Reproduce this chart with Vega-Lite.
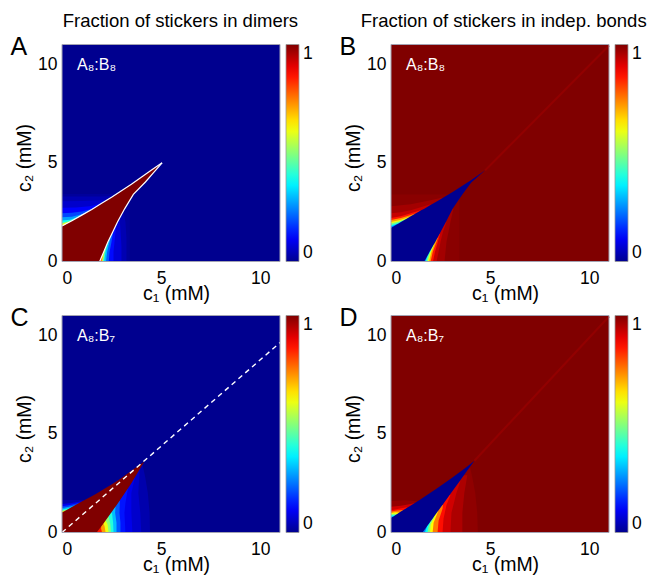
{
 "$schema": "https://vega.github.io/schema/vega-lite/v6.json",
 "padding": {"left": 10, "top": 11.5, "right": 3, "bottom": 0},
 "background": "white",
 "datasets": {
  "bgA": [{"x":0,"x2":11,"y":0,"y2":11,"v":0}],
  "bgB": [{"x":0,"x2":11,"y":0,"y2":11,"v":1}],
  "bgC": [{"x":0,"x2":11,"y":0,"y2":11,"v":0}],
  "bgD": [{"x":0,"x2":11,"y":0,"y2":11,"v":1}],
  "boxA": [{"x":0,"x2":3.42,"y":0,"y2":3.42,"v":0.012}],
  "boxB": [{"x":0,"x2":3.45,"y":0,"y2":3.4,"v":0.99}],
  "r2A": [
   {"v":0.035,"y":0,"x":1.6,"x2":3.25},{"v":0.035,"y":1.2,"x":2.12,"x2":3.25},{"v":0.035,"y":2.0,"x":2.5,"x2":3.2},{"v":0.035,"y":2.6,"x":2.83,"x2":3.1},
   {"v":0.07,"y":0,"x":1.6,"x2":3.0},{"v":0.07,"y":0.8,"x":1.94,"x2":3.0},{"v":0.07,"y":1.6,"x":2.31,"x2":2.95},{"v":0.07,"y":2.2,"x":2.61,"x2":2.91},
   {"v":0.12,"y":0,"x":1.6,"x2":2.6},{"v":0.12,"y":0.5,"x":1.81,"x2":2.6},{"v":0.12,"y":1.0,"x":2.02,"x2":2.65},{"v":0.12,"y":1.5,"x":2.26,"x2":2.7},{"v":0.12,"y":1.9,"x":2.45,"x2":2.75},
   {"v":0.2,"y":0,"x":1.6,"x2":2.36},{"v":0.2,"y":0.5,"x":1.81,"x2":2.4},{"v":0.2,"y":1.0,"x":2.02,"x2":2.5},{"v":0.2,"y":1.5,"x":2.26,"x2":2.58},
   {"v":0.3,"y":0,"x":1.6,"x2":2.22},{"v":0.3,"y":0.5,"x":1.81,"x2":2.28},{"v":0.3,"y":1.0,"x":2.02,"x2":2.4},{"v":0.3,"y":1.3,"x":2.16,"x2":2.47},
   {"v":0.42,"y":0,"x":1.6,"x2":2.13},{"v":0.42,"y":0.5,"x":1.81,"x2":2.2},{"v":0.42,"y":1.0,"x":2.02,"x2":2.33},
   {"v":0.55,"y":0,"x":1.6,"x2":2.07},{"v":0.55,"y":0.4,"x":1.77,"x2":2.13},{"v":0.55,"y":0.8,"x":1.94,"x2":2.24},
   {"v":0.7,"y":0,"x":1.6,"x2":2.02},{"v":0.7,"y":0.3,"x":1.73,"x2":2.07},{"v":0.7,"y":0.55,"x":1.83,"x2":2.13},
   {"v":0.85,"y":0,"x":1.6,"x2":1.97},{"v":0.85,"y":0.3,"x":1.73,"x2":2.03}
  ],
  "r1A": [
   {"v":0.035,"x":0,"y":1.5,"y2":3.3},{"v":0.035,"x":1.0,"y":2.05,"y2":3.3},{"v":0.035,"x":2.0,"y":2.65,"y2":3.3},{"v":0.035,"x":2.6,"y":3.02,"y2":3.33},
   {"v":0.06,"x":0,"y":1.5,"y2":3.05},{"v":0.06,"x":1.0,"y":2.05,"y2":3.07},{"v":0.06,"x":2.0,"y":2.65,"y2":3.1},{"v":0.06,"x":2.3,"y":2.83,"y2":3.13},
   {"v":0.11,"x":0,"y":1.5,"y2":2.72},{"v":0.11,"x":0.7,"y":1.88,"y2":2.74},{"v":0.11,"x":1.4,"y":2.28,"y2":2.8},{"v":0.11,"x":2.0,"y":2.65,"y2":2.95},
   {"v":0.18,"x":0,"y":1.5,"y2":2.45},{"v":0.18,"x":0.5,"y":1.77,"y2":2.47},{"v":0.18,"x":1.0,"y":2.05,"y2":2.53},{"v":0.18,"x":1.5,"y":2.34,"y2":2.66},{"v":0.18,"x":1.7,"y":2.46,"y2":2.76},
   {"v":0.27,"x":0,"y":1.5,"y2":2.24},{"v":0.27,"x":0.5,"y":1.77,"y2":2.27},{"v":0.27,"x":1.0,"y":2.05,"y2":2.4},{"v":0.27,"x":1.35,"y":2.25,"y2":2.55},
   {"v":0.38,"x":0,"y":1.5,"y2":2.08},{"v":0.38,"x":0.4,"y":1.72,"y2":2.12},{"v":0.38,"x":0.8,"y":1.94,"y2":2.26},{"v":0.38,"x":1.0,"y":2.05,"y2":2.35},
   {"v":0.5,"x":0,"y":1.5,"y2":1.97},{"v":0.5,"x":0.3,"y":1.66,"y2":2.03},{"v":0.5,"x":0.6,"y":1.83,"y2":2.13},
   {"v":0.62,"x":0,"y":1.5,"y2":1.9},{"v":0.62,"x":0.2,"y":1.61,"y2":1.97},{"v":0.62,"x":0.35,"y":1.69,"y2":2.0}
  ],
  "wedgeA": [
   {"v":1,"x":0,"y":0,"y2":1.8},{"v":1,"x":0.5,"y":0,"y2":2.07},{"v":1,"x":1.0,"y":0,"y2":2.35},{"v":1,"x":1.5,"y":0,"y2":2.64},{"v":1,"x":1.9,"y":0,"y2":2.88},
   {"v":1,"x":2.11,"y":0.5,"y2":3.01},{"v":1,"x":2.32,"y":1.0,"y2":3.15},{"v":1,"x":2.56,"y":1.5,"y2":3.3},{"v":1,"x":2.8,"y":2.0,"y2":3.45},
   {"v":1,"x":3.16,"y":2.67,"y2":3.69},{"v":1,"x":3.6,"y":3.4,"y2":3.99},{"v":1,"x":4.21,"y":4.03,"y2":4.42},{"v":1,"x":4.6,"y":4.48,"y2":4.7},{"v":1,"x":5.0,"y":4.97,"y2":4.97}
  ],
  "linesA": [
   {"s":"u","x":0,"y":1.8},{"s":"u","x":0.5,"y":2.07},{"s":"u","x":1,"y":2.35},{"s":"u","x":1.5,"y":2.64},{"s":"u","x":2,"y":2.95},{"s":"u","x":2.5,"y":3.26},{"s":"u","x":3,"y":3.59},{"s":"u","x":3.5,"y":3.92},{"s":"u","x":4,"y":4.27},{"s":"u","x":4.5,"y":4.63},{"s":"u","x":5.05,"y":5.0},
   {"s":"l","x":1.9,"y":0},{"s":"l","x":2.11,"y":0.5},{"s":"l","x":2.32,"y":1.0},{"s":"l","x":2.56,"y":1.5},{"s":"l","x":2.8,"y":2.0},{"s":"l","x":3.16,"y":2.67},{"s":"l","x":3.6,"y":3.4},{"s":"l","x":4.21,"y":4.03},{"s":"l","x":4.62,"y":4.5},{"s":"l","x":5.05,"y":5.0}
  ],
  "diagB": [{"x":4.75,"y":4.62},{"x":11,"y":10.95}],
  "r2B": [
   {"v":0.965,"y":0,"x":1.38,"x2":2.7},{"v":0.965,"y":1.0,"x":1.94,"x2":2.8},{"v":0.965,"y":2.0,"x":2.47,"x2":3.0},{"v":0.965,"y":2.67,"x":2.81,"x2":3.15},
   {"v":0.93,"y":0,"x":1.38,"x2":2.3},{"v":0.93,"y":0.5,"x":1.65,"x2":2.4},{"v":0.93,"y":1.0,"x":1.94,"x2":2.5},{"v":0.93,"y":1.5,"x":2.2,"x2":2.62},{"v":0.93,"y":2.0,"x":2.47,"x2":2.8},
   {"v":0.85,"y":0,"x":1.38,"x2":2.12},{"v":0.85,"y":0.5,"x":1.65,"x2":2.22},{"v":0.85,"y":1.0,"x":1.94,"x2":2.37},{"v":0.85,"y":1.4,"x":2.15,"x2":2.47},
   {"v":0.72,"y":0,"x":1.38,"x2":2.0},{"v":0.72,"y":0.5,"x":1.65,"x2":2.11},{"v":0.72,"y":1.0,"x":1.94,"x2":2.3},{"v":0.72,"y":1.2,"x":2.04,"x2":2.36},
   {"v":0.6,"y":0,"x":1.38,"x2":1.92},{"v":0.6,"y":0.5,"x":1.65,"x2":2.04},{"v":0.6,"y":0.9,"x":1.88,"x2":2.2},
   {"v":0.48,"y":0,"x":1.38,"x2":1.85},{"v":0.48,"y":0.4,"x":1.6,"x2":1.96},{"v":0.48,"y":0.8,"x":1.82,"x2":2.13},
   {"v":0.36,"y":0,"x":1.38,"x2":1.78},{"v":0.36,"y":0.3,"x":1.55,"x2":1.87},{"v":0.36,"y":0.6,"x":1.71,"x2":2.02},
   {"v":0.24,"y":0,"x":1.38,"x2":1.73},{"v":0.24,"y":0.25,"x":1.52,"x2":1.83},{"v":0.24,"y":0.45,"x":1.62,"x2":1.93}
  ],
  "r1B": [
   {"v":0.965,"x":0,"y":1.4,"y2":2.8},{"v":0.965,"x":1.0,"y":1.99,"y2":2.9},{"v":0.965,"x":2.0,"y":2.57,"y2":3.1},{"v":0.965,"x":2.6,"y":2.92,"y2":3.25},
   {"v":0.93,"x":0,"y":1.4,"y2":2.45},{"v":0.93,"x":0.5,"y":1.7,"y2":2.5},{"v":0.93,"x":1.0,"y":1.99,"y2":2.6},{"v":0.93,"x":1.5,"y":2.28,"y2":2.75},{"v":0.93,"x":2.0,"y":2.57,"y2":2.9},
   {"v":0.85,"x":0,"y":1.4,"y2":2.2},{"v":0.85,"x":0.5,"y":1.7,"y2":2.3},{"v":0.85,"x":1.0,"y":1.99,"y2":2.45},{"v":0.85,"x":1.5,"y":2.28,"y2":2.6},
   {"v":0.72,"x":0,"y":1.4,"y2":2.1},{"v":0.72,"x":0.5,"y":1.7,"y2":2.2},{"v":0.72,"x":1.0,"y":1.99,"y2":2.36},{"v":0.72,"x":1.2,"y":2.1,"y2":2.42},
   {"v":0.6,"x":0,"y":1.4,"y2":2.0},{"v":0.6,"x":0.5,"y":1.7,"y2":2.12},{"v":0.6,"x":0.9,"y":1.93,"y2":2.25},
   {"v":0.48,"x":0,"y":1.4,"y2":1.92},{"v":0.48,"x":0.4,"y":1.64,"y2":2.03},{"v":0.48,"x":0.75,"y":1.85,"y2":2.16},
   {"v":0.36,"x":0,"y":1.4,"y2":1.84},{"v":0.36,"x":0.3,"y":1.58,"y2":1.93},{"v":0.36,"x":0.55,"y":1.73,"y2":2.04},
   {"v":0.24,"x":0,"y":1.4,"y2":1.77},{"v":0.24,"x":0.2,"y":1.52,"y2":1.85},{"v":0.24,"x":0.35,"y":1.6,"y2":1.91}
  ],
  "wedgeB": [
   {"v":0,"x":0,"y":0,"y2":1.7},{"v":0,"x":0.5,"y":0,"y2":2.0},{"v":0,"x":1.0,"y":0,"y2":2.29},{"v":0,"x":1.5,"y":0,"y2":2.58},{"v":0,"x":1.68,"y":0,"y2":2.68},
   {"v":0,"x":1.95,"y":0.5,"y2":2.84},{"v":0,"x":2.24,"y":1.0,"y2":3.0},{"v":0,"x":2.5,"y":1.5,"y2":3.16},{"v":0,"x":2.77,"y":2.0,"y2":3.32},
   {"v":0,"x":3.11,"y":2.67,"y2":3.52},{"v":0,"x":3.6,"y":3.4,"y2":3.84},{"v":0,"x":4.05,"y":4.0,"y2":4.13},{"v":0,"x":4.75,"y":4.62,"y2":4.62}
  ],
  "r1C": [
   {"v":0.03,"x":0,"y":0.77,"y2":1.65},{"v":0.03,"x":0.6,"y":1.09,"y2":1.65},{"v":0.03,"x":1.15,"y":1.4,"y2":1.65},
   {"v":0.09,"x":0,"y":0.77,"y2":1.45},{"v":0.09,"x":0.5,"y":1.04,"y2":1.5},{"v":0.09,"x":1.0,"y":1.32,"y2":1.58},
   {"v":0.17,"x":0,"y":0.77,"y2":1.33},{"v":0.17,"x":0.4,"y":0.99,"y2":1.39},{"v":0.17,"x":0.85,"y":1.24,"y2":1.5},
   {"v":0.27,"x":0,"y":0.77,"y2":1.24},{"v":0.27,"x":0.35,"y":0.97,"y2":1.3},{"v":0.27,"x":0.65,"y":1.12,"y2":1.38},
   {"v":0.38,"x":0,"y":0.77,"y2":1.17},{"v":0.38,"x":0.3,"y":0.94,"y2":1.23},{"v":0.38,"x":0.45,"y":1.01,"y2":1.27},
   {"v":0.5,"x":0,"y":0.77,"y2":1.11},{"v":0.5,"x":0.25,"y":0.91,"y2":1.17},
   {"v":0.62,"x":0,"y":0.77,"y2":1.07},{"v":0.62,"x":0.15,"y":0.85,"y2":1.1}
  ],
  "r2C": [
   {"v":0.03,"y":0,"x":1.45,"x2":4.44},{"v":0.03,"y":1.0,"x":2.18,"x2":4.42},{"v":0.03,"y":2.0,"x":2.87,"x2":4.33},{"v":0.03,"y":2.8,"x":3.38,"x2":4.2},{"v":0.03,"y":3.45,"x":4.0,"x2":4.06},
   {"v":0.06,"y":0,"x":1.45,"x2":4.0},{"v":0.06,"y":1.0,"x":2.18,"x2":3.95},{"v":0.06,"y":2.0,"x":2.87,"x2":3.85},{"v":0.06,"y":3.2,"x":3.73,"x2":3.92},
   {"v":0.09,"y":0,"x":1.45,"x2":3.55},{"v":0.09,"y":1.0,"x":2.18,"x2":3.5},{"v":0.09,"y":2.0,"x":2.87,"x2":3.5},{"v":0.09,"y":2.8,"x":3.38,"x2":3.68},
   {"v":0.13,"y":0,"x":1.45,"x2":3.2},{"v":0.13,"y":1.0,"x":2.18,"x2":3.15},{"v":0.13,"y":1.5,"x":2.53,"x2":3.2},{"v":0.13,"y":2.2,"x":3.0,"x2":3.32},
   {"v":0.2,"y":0,"x":1.45,"x2":2.95},{"v":0.2,"y":0.5,"x":1.82,"x2":2.95},{"v":0.2,"y":1.0,"x":2.18,"x2":2.9},{"v":0.2,"y":1.6,"x":2.6,"x2":2.92},
   {"v":0.3,"y":0,"x":1.45,"x2":2.75},{"v":0.3,"y":0.5,"x":1.82,"x2":2.75},{"v":0.3,"y":1.0,"x":2.18,"x2":2.68},{"v":0.3,"y":1.3,"x":2.39,"x2":2.7},
   {"v":0.4,"y":0,"x":1.45,"x2":2.6},{"v":0.4,"y":0.5,"x":1.82,"x2":2.58},{"v":0.4,"y":1.0,"x":2.18,"x2":2.52},
   {"v":0.5,"y":0,"x":1.45,"x2":2.47},{"v":0.5,"y":0.4,"x":1.74,"x2":2.44},{"v":0.5,"y":0.8,"x":2.04,"x2":2.36},
   {"v":0.6,"y":0,"x":1.45,"x2":2.35},{"v":0.6,"y":0.4,"x":1.74,"x2":2.3},{"v":0.6,"y":0.6,"x":1.89,"x2":2.21},
   {"v":0.72,"y":0,"x":1.45,"x2":2.2},{"v":0.72,"y":0.3,"x":1.67,"x2":2.15},{"v":0.72,"y":0.45,"x":1.78,"x2":2.1},
   {"v":0.85,"y":0,"x":1.45,"x2":2.02},{"v":0.85,"y":0.2,"x":1.6,"x2":1.97},{"v":0.85,"y":0.3,"x":1.67,"x2":1.98}
  ],
  "wedgeC": [
   {"v":1,"x":0,"y":0,"y2":1.02},{"v":1,"x":0.5,"y":0,"y2":1.29},{"v":1,"x":1.0,"y":0,"y2":1.57},{"v":1,"x":1.5,"y":0,"y2":1.84},{"v":1,"x":1.75,"y":0,"y2":1.98},
   {"v":1,"x":2.12,"y":0.5,"y2":2.2},{"v":1,"x":2.48,"y":1.0,"y2":2.42},{"v":1,"x":2.83,"y":1.5,"y2":2.65},{"v":1,"x":3.17,"y":2.0,"y2":2.89},
   {"v":1,"x":3.5,"y":2.5,"y2":3.13},{"v":1,"x":3.8,"y":3.0,"y2":3.35},{"v":1,"x":4.15,"y":3.59,"y2":3.59}
  ],
  "dashC": [{"x":0,"y":0},{"x":11,"y":9.625}],
  "diagD": [{"x":4.21,"y":3.64},{"x":11,"y":10.95}],
  "r2D": [
   {"v":0.985,"y":0,"x":1.29,"x2":4.38},{"v":0.985,"y":1.0,"x":2.01,"x2":4.35},{"v":0.985,"y":2.0,"x":2.73,"x2":4.25},{"v":0.985,"y":2.8,"x":3.31,"x2":4.1},{"v":0.985,"y":3.3,"x":3.85,"x2":3.99},
   {"v":0.955,"y":0,"x":1.29,"x2":3.6},{"v":0.955,"y":1.0,"x":2.01,"x2":3.6},{"v":0.955,"y":2.0,"x":2.73,"x2":3.7},{"v":0.955,"y":2.9,"x":3.38,"x2":3.85},
   {"v":0.92,"y":0,"x":1.29,"x2":3.0},{"v":0.92,"y":1.0,"x":2.01,"x2":3.05},{"v":0.92,"y":2.0,"x":2.73,"x2":3.3},{"v":0.92,"y":2.6,"x":3.16,"x2":3.5},
   {"v":0.86,"y":0,"x":1.29,"x2":2.6},{"v":0.86,"y":0.7,"x":1.79,"x2":2.65},{"v":0.86,"y":1.4,"x":2.3,"x2":2.8},{"v":0.86,"y":1.9,"x":2.66,"x2":3.0},
   {"v":0.75,"y":0,"x":1.29,"x2":2.35},{"v":0.75,"y":0.6,"x":1.72,"x2":2.4},{"v":0.75,"y":1.2,"x":2.15,"x2":2.6},{"v":0.75,"y":1.4,"x":2.3,"x2":2.62},
   {"v":0.62,"y":0,"x":1.29,"x2":2.1},{"v":0.62,"y":0.5,"x":1.65,"x2":2.15},{"v":0.62,"y":1.0,"x":2.01,"x2":2.35},{"v":0.62,"y":1.1,"x":2.08,"x2":2.38},
   {"v":0.5,"y":0,"x":1.29,"x2":1.97},{"v":0.5,"y":0.4,"x":1.58,"x2":2.0},{"v":0.5,"y":0.8,"x":1.87,"x2":2.2},
   {"v":0.37,"y":0,"x":1.29,"x2":1.84},{"v":0.37,"y":0.3,"x":1.51,"x2":1.9},{"v":0.37,"y":0.55,"x":1.69,"x2":1.99},
   {"v":0.24,"y":0,"x":1.29,"x2":1.71},{"v":0.24,"y":0.2,"x":1.43,"x2":1.78},{"v":0.24,"y":0.3,"x":1.51,"x2":1.81}
  ],
  "r1D": [
   {"v":0.98,"x":0,"y":0.49,"y2":1.6},{"v":0.98,"x":0.7,"y":0.94,"y2":1.64},{"v":0.98,"x":1.3,"y":1.31,"y2":1.58},
   {"v":0.92,"x":0,"y":0.49,"y2":1.3},{"v":0.92,"x":0.5,"y":0.81,"y2":1.35},{"v":0.92,"x":1.0,"y":1.12,"y2":1.45},{"v":0.92,"x":1.2,"y":1.25,"y2":1.5},
   {"v":0.86,"x":0,"y":0.49,"y2":1.13},{"v":0.86,"x":0.4,"y":0.75,"y2":1.2},{"v":0.86,"x":0.8,"y":1.0,"y2":1.28},
   {"v":0.75,"x":0,"y":0.49,"y2":1.06},{"v":0.75,"x":0.3,"y":0.68,"y2":1.12},{"v":0.75,"x":0.6,"y":0.87,"y2":1.14},
   {"v":0.62,"x":0,"y":0.49,"y2":0.99},{"v":0.62,"x":0.2,"y":0.62,"y2":1.03},{"v":0.62,"x":0.4,"y":0.75,"y2":1.02},
   {"v":0.5,"x":0,"y":0.49,"y2":0.93},{"v":0.5,"x":0.15,"y":0.58,"y2":0.95},{"v":0.5,"x":0.3,"y":0.68,"y2":0.94},
   {"v":0.37,"x":0,"y":0.49,"y2":0.87},{"v":0.37,"x":0.2,"y":0.62,"y2":0.88},
   {"v":0.24,"x":0,"y":0.49,"y2":0.8},{"v":0.24,"x":0.1,"y":0.55,"y2":0.81}
  ],
  "wedgeD": [
   {"v":0,"x":0,"y":0,"y2":0.74},{"v":0,"x":0.5,"y":0,"y2":1.06},{"v":0,"x":1.0,"y":0,"y2":1.37},{"v":0,"x":1.5,"y":0,"y2":1.69},{"v":0,"x":1.59,"y":0,"y2":1.75},
   {"v":0,"x":1.95,"y":0.5,"y2":1.99},{"v":0,"x":2.31,"y":1.0,"y2":2.23},{"v":0,"x":2.67,"y":1.5,"y2":2.48},{"v":0,"x":3.03,"y":2.0,"y2":2.74},
   {"v":0,"x":3.39,"y":2.5,"y2":3.0},{"v":0,"x":3.75,"y":3.0,"y2":3.27},{"v":0,"x":4.21,"y":3.64,"y2":3.64}
  ]
 },
 "concat": [
  {
   "width": 218, "height": 217,
   "title": {"text": "Fraction of stickers in dimers", "dx": 9.4},
   "layer": [
    {
     "encoding": {
      "x": {"field": "x", "type": "quantitative", "stack": null, "scale": {"domain": [0, 11], "nice": false, "zero": false}, "axis": {"values": [0, 5, 10], "title": "c₁ (mM)"}},
      "y": {"field": "y", "type": "quantitative", "stack": null, "scale": {"domain": [0, 11], "nice": false, "zero": false}, "axis": {"values": [0, 5, 10], "title": "c₂ (mM)"}},
      "color": {"field": "v", "type": "quantitative",
       "scale": {"domain": [0, 0.111, 0.238, 0.365, 0.492, 0.619, 0.746, 0.873, 1], "range": ["#00008f", "#0000ff", "#0080ff", "#00ffff", "#80ff80", "#ffff00", "#ff8000", "#ff0000", "#800000"], "interpolate": "rgb"},
       "legend": {"type": "gradient", "title": null, "values": [0, 1], "format": "d", "gradientLength": 217, "gradientThickness": 13, "offset": 6, "labelOffset": 4, "padding": 0}}
     },
     "layer": [
      {"data": {"name": "bgA"}, "mark": "rect", "encoding": {"x2": {"field": "x2"}, "y2": {"field": "y2"}}},
      {"data": {"name": "boxA"}, "mark": "rect", "encoding": {"x2": {"field": "x2"}, "y2": {"field": "y2"}}},
      {"data": {"name": "r2A"}, "mark": {"type": "area", "orient": "horizontal"}, "encoding": {"x2": {"field": "x2"}}},
      {"data": {"name": "r1A"}, "mark": {"type": "area", "orient": "vertical"}, "encoding": {"y2": {"field": "y2"}}},
      {"data": {"name": "wedgeA"}, "mark": {"type": "area", "orient": "vertical"}, "encoding": {"y2": {"field": "y2"}}},
      {"data": {"name": "linesA"}, "mark": {"type": "line", "strokeWidth": 1.2}, "encoding": {"detail": {"field": "s"}, "color": {"value": "white"}}},
      {"data": {"name": "bgA"}, "mark": {"type": "rect", "filled": false, "strokeWidth": 1}, "encoding": {"x2": {"field": "x2"}, "y2": {"field": "y2"}, "color": {"value": "#a3a3b3"}}}
     ]
    },
    {"data": {"values": [{"t": "A₈:B₈"}]}, "mark": {"type": "text", "fontSize": 16, "align": "left", "baseline": "alphabetic", "color": "white"}, "encoding": {"x": {"datum": 0.76}, "y": {"datum": 9.7}, "text": {"field": "t"}}},
    {"data": {"values": [{"t": "A"}]}, "mark": {"type": "text", "fontSize": 25, "align": "left", "baseline": "alphabetic", "color": "black"}, "encoding": {"x": {"datum": -2.6}, "y": {"datum": 10.48}, "text": {"field": "t"}}}
   ]
  },
  {
   "width": 218, "height": 217,
   "title": {"text": "Fraction of stickers in indep. bonds", "dx": 3.7},
   "layer": [
    {
     "encoding": {
      "x": {"field": "x", "type": "quantitative", "stack": null, "scale": {"domain": [0, 11], "nice": false, "zero": false}, "axis": {"values": [0, 5, 10], "title": "c₁ (mM)"}},
      "y": {"field": "y", "type": "quantitative", "stack": null, "scale": {"domain": [0, 11], "nice": false, "zero": false}, "axis": {"values": [0, 5, 10], "title": "c₂ (mM)"}},
      "color": {"field": "v", "type": "quantitative",
       "scale": {"domain": [0, 0.111, 0.238, 0.365, 0.492, 0.619, 0.746, 0.873, 1], "range": ["#00008f", "#0000ff", "#0080ff", "#00ffff", "#80ff80", "#ffff00", "#ff8000", "#ff0000", "#800000"], "interpolate": "rgb"},
       "legend": {"type": "gradient", "title": null, "values": [0, 1], "format": "d", "gradientLength": 217, "gradientThickness": 13, "offset": 6, "labelOffset": 4, "padding": 0}}
     },
     "layer": [
      {"data": {"name": "bgB"}, "mark": "rect", "encoding": {"x2": {"field": "x2"}, "y2": {"field": "y2"}}},
      {"data": {"name": "boxB"}, "mark": "rect", "encoding": {"x2": {"field": "x2"}, "y2": {"field": "y2"}}},
      {"data": {"name": "diagB"}, "mark": {"type": "line", "strokeWidth": 2}, "encoding": {"color": {"value": "#920000"}}},
      {"data": {"name": "r2B"}, "mark": {"type": "area", "orient": "horizontal"}, "encoding": {"x2": {"field": "x2"}}},
      {"data": {"name": "r1B"}, "mark": {"type": "area", "orient": "vertical"}, "encoding": {"y2": {"field": "y2"}}},
      {"data": {"name": "wedgeB"}, "mark": {"type": "area", "orient": "vertical"}, "encoding": {"y2": {"field": "y2"}}},
      {"data": {"name": "bgB"}, "mark": {"type": "rect", "filled": false, "strokeWidth": 1}, "encoding": {"x2": {"field": "x2"}, "y2": {"field": "y2"}, "color": {"value": "#a3a3b3"}}}
     ]
    },
    {"data": {"values": [{"t": "A₈:B₈"}]}, "mark": {"type": "text", "fontSize": 16, "align": "left", "baseline": "alphabetic", "color": "white"}, "encoding": {"x": {"datum": 0.76}, "y": {"datum": 9.7}, "text": {"field": "t"}}},
    {"data": {"values": [{"t": "B"}]}, "mark": {"type": "text", "fontSize": 25, "align": "left", "baseline": "alphabetic", "color": "black"}, "encoding": {"x": {"datum": -2.6}, "y": {"datum": 10.48}, "text": {"field": "t"}}}
   ]
  },
  {
   "width": 218, "height": 217,
   "layer": [
    {
     "encoding": {
      "x": {"field": "x", "type": "quantitative", "stack": null, "scale": {"domain": [0, 11], "nice": false, "zero": false}, "axis": {"values": [0, 5, 10], "title": "c₁ (mM)"}},
      "y": {"field": "y", "type": "quantitative", "stack": null, "scale": {"domain": [0, 11], "nice": false, "zero": false}, "axis": {"values": [0, 5, 10], "title": "c₂ (mM)"}},
      "color": {"field": "v", "type": "quantitative",
       "scale": {"domain": [0, 0.111, 0.238, 0.365, 0.492, 0.619, 0.746, 0.873, 1], "range": ["#00008f", "#0000ff", "#0080ff", "#00ffff", "#80ff80", "#ffff00", "#ff8000", "#ff0000", "#800000"], "interpolate": "rgb"},
       "legend": {"type": "gradient", "title": null, "values": [0, 1], "format": "d", "gradientLength": 217, "gradientThickness": 13, "offset": 6, "labelOffset": 4, "padding": 0}}
     },
     "layer": [
      {"data": {"name": "bgC"}, "mark": "rect", "encoding": {"x2": {"field": "x2"}, "y2": {"field": "y2"}}},
      {"data": {"name": "r2C"}, "mark": {"type": "area", "orient": "horizontal"}, "encoding": {"x2": {"field": "x2"}}},
      {"data": {"name": "r1C"}, "mark": {"type": "area", "orient": "vertical"}, "encoding": {"y2": {"field": "y2"}}},
      {"data": {"name": "wedgeC"}, "mark": {"type": "area", "orient": "vertical"}, "encoding": {"y2": {"field": "y2"}}},
      {"data": {"name": "dashC"}, "mark": {"type": "line", "strokeWidth": 1.4, "strokeDash": [5, 4]}, "encoding": {"color": {"value": "white"}}},
      {"data": {"name": "bgC"}, "mark": {"type": "rect", "filled": false, "strokeWidth": 1}, "encoding": {"x2": {"field": "x2"}, "y2": {"field": "y2"}, "color": {"value": "#a3a3b3"}}}
     ]
    },
    {"data": {"values": [{"t": "A₈:B₇"}]}, "mark": {"type": "text", "fontSize": 16, "align": "left", "baseline": "alphabetic", "color": "white"}, "encoding": {"x": {"datum": 0.76}, "y": {"datum": 9.7}, "text": {"field": "t"}}},
    {"data": {"values": [{"t": "C"}]}, "mark": {"type": "text", "fontSize": 25, "align": "left", "baseline": "alphabetic", "color": "black"}, "encoding": {"x": {"datum": -2.6}, "y": {"datum": 10.48}, "text": {"field": "t"}}}
   ]
  },
  {
   "width": 218, "height": 217,
   "layer": [
    {
     "encoding": {
      "x": {"field": "x", "type": "quantitative", "stack": null, "scale": {"domain": [0, 11], "nice": false, "zero": false}, "axis": {"values": [0, 5, 10], "title": "c₁ (mM)"}},
      "y": {"field": "y", "type": "quantitative", "stack": null, "scale": {"domain": [0, 11], "nice": false, "zero": false}, "axis": {"values": [0, 5, 10], "title": "c₂ (mM)"}},
      "color": {"field": "v", "type": "quantitative",
       "scale": {"domain": [0, 0.111, 0.238, 0.365, 0.492, 0.619, 0.746, 0.873, 1], "range": ["#00008f", "#0000ff", "#0080ff", "#00ffff", "#80ff80", "#ffff00", "#ff8000", "#ff0000", "#800000"], "interpolate": "rgb"},
       "legend": {"type": "gradient", "title": null, "values": [0, 1], "format": "d", "gradientLength": 217, "gradientThickness": 13, "offset": 6, "labelOffset": 4, "padding": 0}}
     },
     "layer": [
      {"data": {"name": "bgD"}, "mark": "rect", "encoding": {"x2": {"field": "x2"}, "y2": {"field": "y2"}}},
      {"data": {"name": "diagD"}, "mark": {"type": "line", "strokeWidth": 2}, "encoding": {"color": {"value": "#920000"}}},
      {"data": {"name": "r2D"}, "mark": {"type": "area", "orient": "horizontal"}, "encoding": {"x2": {"field": "x2"}}},
      {"data": {"name": "r1D"}, "mark": {"type": "area", "orient": "vertical"}, "encoding": {"y2": {"field": "y2"}}},
      {"data": {"name": "wedgeD"}, "mark": {"type": "area", "orient": "vertical"}, "encoding": {"y2": {"field": "y2"}}},
      {"data": {"name": "bgD"}, "mark": {"type": "rect", "filled": false, "strokeWidth": 1}, "encoding": {"x2": {"field": "x2"}, "y2": {"field": "y2"}, "color": {"value": "#a3a3b3"}}}
     ]
    },
    {"data": {"values": [{"t": "A₈:B₇"}]}, "mark": {"type": "text", "fontSize": 16, "align": "left", "baseline": "alphabetic", "color": "white"}, "encoding": {"x": {"datum": 0.76}, "y": {"datum": 9.7}, "text": {"field": "t"}}},
    {"data": {"values": [{"t": "D"}]}, "mark": {"type": "text", "fontSize": 25, "align": "left", "baseline": "alphabetic", "color": "black"}, "encoding": {"x": {"datum": -2.6}, "y": {"datum": 10.48}, "text": {"field": "t"}}}
   ]
  }
 ],
 "columns": 2,
 "spacing": {"row": 54, "column": 111},
 "bounds": "flush",
 "resolve": {"scale": {"color": "independent"}, "legend": {"color": "independent"}},
 "config": {
  "font": "Liberation Sans",
  "view": {"stroke": null},
  "axis": {"grid": false, "ticks": false, "tickSize": 0, "domain": false, "labelFontSize": 17.5, "titleFontSize": 19.5, "titleFontWeight": "normal", "labelColor": "black", "titleColor": "black", "labelFont": "Liberation Sans", "titleFont": "Liberation Sans"},
  "axisX": {"labelPadding": 7.5, "titlePadding": -2, "titleX": 114},
  "axisY": {"labelPadding": 5, "titlePadding": 3, "titleY": 113},
  "legend": {"labelFontSize": 17.5, "labelColor": "black", "labelFont": "Liberation Sans", "gradientStrokeColor": "#999999", "gradientStrokeWidth": 0.8},
  "title": {"fontSize": 18.5, "fontWeight": "normal", "font": "Liberation Sans", "color": "black", "frame": "group", "anchor": "middle", "offset": 4},
  "text": {"font": "Liberation Sans"}
 }
}
